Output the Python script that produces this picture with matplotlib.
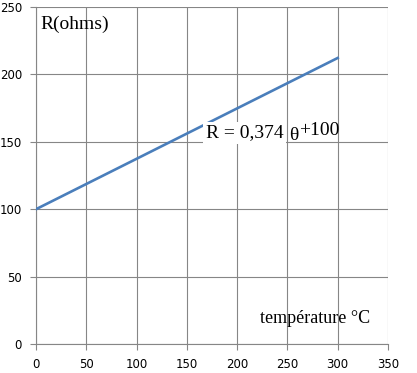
import matplotlib
matplotlib.use("Agg")
from matplotlib import pyplot as plt

# temperature (°C) and resistance (ohms)
temperature = [0, 50, 100, 150, 200, 250, 300]
resistance = [100, 118.7, 137.4, 156.1, 174.8, 193.5, 212.2]
x_ticks = [0, 50, 100, 150, 200, 250, 300, 350]
y_ticks = [0, 50, 100, 150, 200, 250]

fig = plt.figure(figsize=(4.17, 3.73), dpi=100)
ax = fig.add_axes([0.0863, 0.0777, 0.8441, 0.9035])

ax.plot(temperature, resistance, color="#4a7ebb", linewidth=1.9, zorder=3)

ax.set_xlim(0, 350)
ax.set_ylim(0, 250)
ax.set_xticks(x_ticks)
ax.set_yticks(y_ticks)
ax.grid(True, color="#868686", linewidth=0.8)
ax.set_axisbelow(True)
for s in ax.spines.values():
    s.set_color("#868686")
    s.set_linewidth(0.8)
ax.spines["top"].set_visible(False)
ax.spines["right"].set_visible(False)
ax.tick_params(direction="out", length=4, color="#868686", labelsize=8.5, pad=6)

serif = "Liberation Serif"
ax.text(4, 237, "R(ohms)", family=serif, fontsize=14, va="center", ha="left")
ax.text(223, 19, "température °C", family=serif, fontsize=13, va="center", ha="left")
# equation label: white box behind the first part, theta sits a bit lower
ax.text(169, 156.5, "R = 0,374", family=serif, fontsize=14, va="center", ha="left",
        bbox=dict(facecolor="white", edgecolor="none", pad=2), zorder=4)
ax.text(252, 154.5, "θ", family=serif, fontsize=14, va="center", ha="left", zorder=4)
ax.text(262, 158.5, "+100", family=serif, fontsize=14, va="center", ha="left", zorder=4)

fig.savefig("out.png", dpi=100)
